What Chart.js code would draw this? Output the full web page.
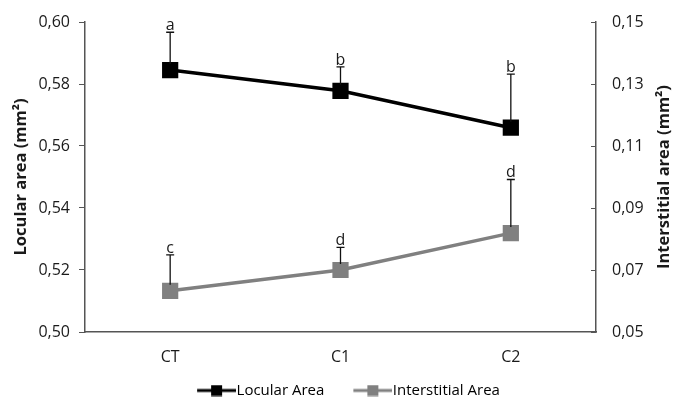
<!DOCTYPE html>
<html>
<head>
<meta charset="utf-8">
<script src="https://cdn.jsdelivr.net/npm/chart.js@4/dist/chart.umd.min.js"></script>
<style>
  body { margin: 0; background: #fff; }
  #wrap { width: 673px; height: 399px; }
</style>
</head>
<body>
<div id="wrap"><canvas id="areaChart" width="673" height="399"></canvas></div>
<script>
// values
var groups = ['CT', 'C1', 'C2'];
var locular = [0.5845, 0.5778, 0.5659];
var locularErr = [0.0122, 0.0077, 0.0173];
var locularLetters = ['a', 'b', 'b'];
var interstitial = [0.0633, 0.0700, 0.0819];
var interstitialErr = [0.0116, 0.0073, 0.0173];
var interstitialLetters = ['c', 'd', 'd'];
var leftTicks = [0.50, 0.52, 0.54, 0.56, 0.58, 0.60];
var rightTicks = [0.05, 0.07, 0.09, 0.11, 0.13, 0.15];

var FONT = "'Open Sans', sans-serif";
var TXT = '#1a1a1a';

// legend marker: line with square, blank on the left to widen the gap between items
function legendIcon(color) {
	var c = document.createElement('canvas');
	c.width = 70;
	c.height = 12;
	var g = c.getContext('2d');
	g.strokeStyle = color;
	g.lineWidth = 3;
	g.beginPath();
	g.moveTo(31, 6);
	g.lineTo(70, 6);
	g.stroke();
	g.fillStyle = color;
	g.fillRect(45, 0.5, 11, 11);
	return c;
}

function comma(v) {
	return v.toFixed(2).replace('.', ',');
}

// upper error bars + significance letters, right axis title and inner ticks
var extras = {
	id: 'extras',
	afterDatasetsDraw: function (chart) {
		var ctx = chart.ctx;
		var sets = [
			{ meta: 0, scale: 'yL', vals: locular, err: locularErr, letters: locularLetters },
			{ meta: 1, scale: 'yR', vals: interstitial, err: interstitialErr, letters: interstitialLetters }
		];
		ctx.save();
		sets.forEach(function (s) {
			var meta = chart.getDatasetMeta(s.meta);
			var sc = chart.scales[s.scale];
			for (var i = 0; i < s.vals.length; i++) {
				var x = meta.data[i].x;
				var y0 = sc.getPixelForValue(s.vals[i]);
				var y1 = sc.getPixelForValue(s.vals[i] + s.err[i]);
				ctx.strokeStyle = '#111';
				ctx.lineWidth = 1.3;
				ctx.beginPath();
				ctx.moveTo(x, y0 - 6);
				ctx.lineTo(x, y1);
				ctx.moveTo(x - 4, y1);
				ctx.lineTo(x + 4, y1);
				ctx.stroke();
				ctx.fillStyle = TXT;
				ctx.font = '16px ' + FONT;
				ctx.textAlign = 'center';
				ctx.textBaseline = 'alphabetic';
				ctx.fillText(s.letters[i], x, y1 - 2);
			}
		});

		var r = chart.scales.yR;
		ctx.strokeStyle = '#555';
		ctx.lineWidth = 1;
		rightTicks.forEach(function (v) {
			var y = Math.round(r.getPixelForValue(v)) + 0.5;
			ctx.beginPath();
			ctx.moveTo(r.left - 5, y);
			ctx.lineTo(r.left, y);
			ctx.stroke();
		});

		ctx.translate(664, (chart.chartArea.top + chart.chartArea.bottom) / 2);
		ctx.rotate(-Math.PI / 2);
		ctx.fillStyle = TXT;
		ctx.font = 'bold 16.5px ' + FONT;
		ctx.textAlign = 'center';
		ctx.textBaseline = 'middle';
		ctx.fillText('Interstitial area (mm²)', 0, 0);
		ctx.restore();
	}
};

var ctx = document.getElementById('areaChart');
var areaChart = new Chart(ctx, {
	type: 'line',
	data: {
		labels: groups,
		datasets: [{
			label: 'Locular Area',
			data: locular,
			yAxisID: 'yL',
			borderColor: '#000',
			backgroundColor: '#000',
			borderWidth: 3.5,
			pointStyle: 'rect',
			pointRadius: 9,
			pointHoverRadius: 9,
			tension: 0,
			order: 1
		}, {
			label: 'Interstitial Area',
			data: interstitial,
			yAxisID: 'yR',
			borderColor: '#808080',
			backgroundColor: '#808080',
			borderWidth: 3.5,
			pointStyle: 'rect',
			pointRadius: 9,
			pointHoverRadius: 9,
			tension: 0,
			order: 2
		}]
	},
	options: {
		responsive: false,
		animation: false,
		layout: { padding: { top: 22, left: 0, right: 0, bottom: -9 } },
		plugins: {
			tooltip: { enabled: false },
			legend: {
				position: 'bottom',
				labels: {
					usePointStyle: true,
					pointStyleWidth: 56,
					color: TXT,
					font: { family: FONT, size: 15 },
					padding: 5,
					generateLabels: function (chart) {
						return chart.data.datasets.map(function (ds, i) {
							return {
								text: ds.label,
								pointStyle: legendIcon(ds.borderColor),
								fillStyle: ds.borderColor,
								strokeStyle: ds.borderColor,
								lineWidth: 0,
								datasetIndex: i
							};
						});
					}
				}
			}
		},
		scales: {
			x: {
				offset: true,
				afterFit: function (axis) { axis.height = 46; },
				grid: { display: false, drawTicks: false },
				border: { color: '#555', width: 1.5 },
				ticks: { color: TXT, font: { family: FONT, size: 16 }, padding: 16 }
			},
			yL: {
				position: 'left',
				min: 0.50,
				max: 0.60,
				afterBuildTicks: function (axis) {
					axis.ticks = leftTicks.map(function (v) { return { value: v }; });
				},
				afterFit: function (axis) { axis.width = 85; },
				grid: { display: true, drawOnChartArea: false, tickLength: 6, color: '#555' },
				border: { color: '#555', width: 1.5 },
				ticks: {
					color: TXT,
					font: { family: FONT, size: 16, lineHeight: 0.5 },
					padding: 9,
					callback: function (v) { return comma(v); }
				},
				title: {
					display: true,
					text: 'Locular area (mm²)',
					color: TXT,
					font: { family: FONT, size: 16.5, weight: 'bold' },
					padding: { top: 11, bottom: 0 }
				}
			},
			yR: {
				position: 'right',
				min: 0.05,
				max: 0.15,
				afterBuildTicks: function (axis) {
					axis.ticks = rightTicks.map(function (v) { return { value: v }; });
				},
				afterFit: function (axis) { axis.width = 77; },
				grid: { display: false, drawTicks: false },
				border: { color: '#555', width: 1.5 },
				ticks: {
					color: TXT,
					font: { family: FONT, size: 16, lineHeight: 0.5 },
					padding: 16,
					callback: function (v) { return comma(v); }
				}
			}
		}
	},
	plugins: [extras]
});
</script>
</body>
</html>
